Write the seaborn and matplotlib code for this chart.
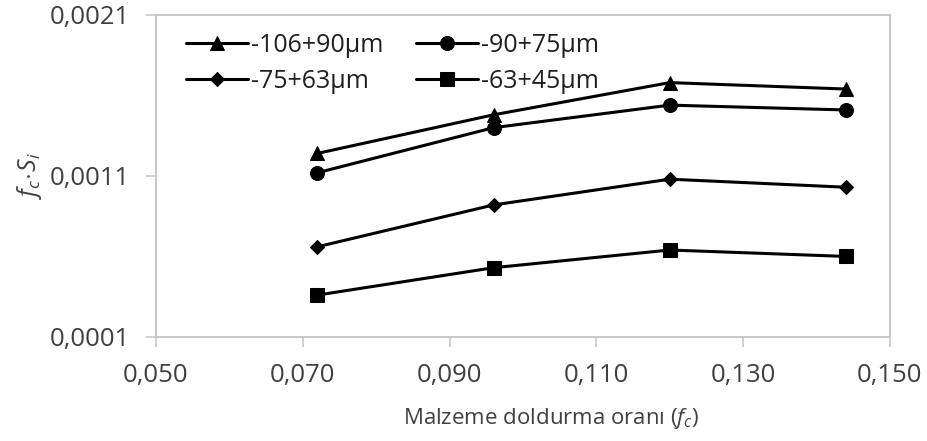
import matplotlib
matplotlib.use("Agg")
import matplotlib.pyplot as plt
import seaborn as sns
import pandas as pd
from matplotlib.ticker import FuncFormatter, FixedLocator

# Data
fill_ratio = [0.072, 0.096, 0.120, 0.144]
series_names = ["-106+90µm", "-90+75µm", "-75+63µm", "-63+45µm"]
s_106_90 = [0.00124, 0.00148, 0.00168, 0.00164]
s_90_75 = [0.00112, 0.00140, 0.00154, 0.00151]
s_75_63 = [0.00066, 0.00092, 0.00108, 0.00103]
s_63_45 = [0.00036, 0.00053, 0.00064, 0.00060]
x_ticks = [0.050, 0.070, 0.090, 0.110, 0.130, 0.150]
y_ticks = [0.0001, 0.0011, 0.0021]

sns.set_theme(style="white")
plt.rcParams['font.family'] = ['Open Sans', 'DejaVu Sans']
plt.rcParams['mathtext.fontset'] = 'custom'
plt.rcParams['mathtext.it'] = 'Open Sans:italic'
plt.rcParams['mathtext.rm'] = 'Open Sans'

fig = plt.figure(figsize=(9.28, 4.41), dpi=100)
ax = fig.add_axes([0.168, 0.236, 0.791, 0.730])

values = [s_106_90, s_90_75, s_75_63, s_63_45]
markers = ['^', 'o', 'D', 's']
msizes = [10, 10, 7, 10]
for name, vals, m, ms in zip(series_names, values, markers, msizes):
    df = pd.DataFrame({"x": fill_ratio, "y": vals})
    sns.lineplot(data=df, x="x", y="y", ax=ax, color="black", linewidth=2.2,
                 marker=m, markersize=ms, markeredgecolor="black",
                 markerfacecolor="black", label=name)

ax.set_xlim(0.050, 0.150)
ax.set_ylim(0.0001, 0.0021)
ax.xaxis.set_major_locator(FixedLocator(x_ticks))
ax.yaxis.set_major_locator(FixedLocator(y_ticks))
ax.xaxis.set_major_formatter(FuncFormatter(lambda v, p: f"{v:.3f}".replace('.', ',')))
ax.yaxis.set_major_formatter(FuncFormatter(lambda v, p: f"{v:.4f}".replace('.', ',')))

for sp in ax.spines.values():
    sp.set_color('#c8c8c8')
    sp.set_linewidth(1.5)
ax.tick_params(axis='both', which='major', direction='out', length=7, width=1.2,
               color='#c8c8c8', labelsize=18.5, labelcolor='#404040',
               left=True, bottom=True)
ax.tick_params(axis='y', pad=12)
ax.tick_params(axis='x', pad=12)

ax.set_xlabel("Malzeme doldurma oranı ($f_c$)", fontsize=16, color='#404040')
ax.xaxis.set_label_coords(0.538, -0.215)
ax.set_ylabel("$f_c\\!\\cdot\\!S_i$", fontsize=18, color='#404040', labelpad=4)

handles, labels = ax.get_legend_handles_labels()
order = [0, 2, 1, 3]
leg = ax.legend([handles[i] for i in order], [labels[i] for i in order],
                ncol=2, loc='upper left', frameon=False, fontsize=18,
                bbox_to_anchor=(0.01, 1.015), handlelength=2.5, handletextpad=0.1,
                columnspacing=1.3, labelspacing=0.45, labelcolor='#202020')

fig.savefig("out.png", dpi=100)
